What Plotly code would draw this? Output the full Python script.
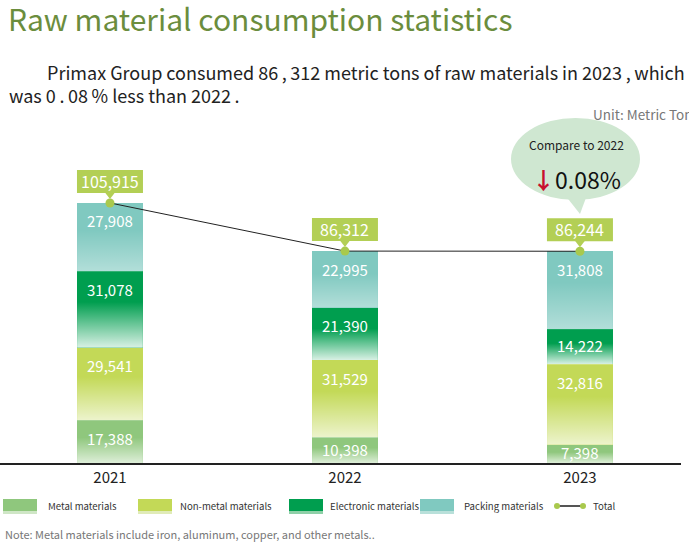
import plotly.graph_objects as go

# ---------------- data ----------------
years = ["2021", "2022", "2023"]
metal = [17388, 10398, 7398]
non_metal = [29541, 31529, 32816]
electronic = [31078, 21390, 14222]
packing = [27908, 22995, 31808]
totals = [105915, 86312, 86244]
series_names = ["Metal materials", "Non-metal materials", "Electronic materials", "Packing materials"]

# ---------------- style ----------------
FONT = "Noto Sans CJK TC"
W, H = 689, 547
M_L, M_R, M_T, M_B = 0, 8, 120, 84
PLOT_H = H - M_T - M_B
Y_MAX = 139700
PX_PER_UNIT = PLOT_H / Y_MAX
BAR_W = 0.28
BOX_GREEN = "#b3cf55"
top_cols = ["#8fc77d", "#c3d957", "#009e4f", "#80c9c0"]
fade_alpha = [0.7, 0.7, 0.85, 0.4]
series = [metal, non_metal, electronic, packing]
xpos = list(range(len(years)))
SP = "\u2009"

fig = go.Figure()

# stacked bars
for name, vals, col in zip(series_names, series, top_cols):
    fig.add_trace(go.Bar(x=xpos, y=vals, name=name, marker=dict(color=col, line=dict(width=0)),
                         width=BAR_W, showlegend=False, hoverinfo="skip"))

# gradient fade overlays (computed from the data stacks)
base = [0] * len(years)
label_anns = []
for vals, a in zip(series, fade_alpha):
    for i, v in enumerate(vals):
        b, t = base[i], base[i] + v
        fig.add_trace(go.Scatter(
            x=[i - BAR_W / 2, i + BAR_W / 2, i + BAR_W / 2, i - BAR_W / 2, i - BAR_W / 2],
            y=[b, b, t, t, b], mode="lines", line=dict(width=0), fill="toself",
            fillgradient=dict(type="vertical", colorscale=[[0, f"rgba(255,255,255,{a})"],
                                                          [0.6, "rgba(255,255,255,0)"],
                                                          [1, "rgba(255,255,255,0)"]]),
            showlegend=False, hoverinfo="skip"))
        hpx = v * PX_PER_UNIT
        if hpx < 36:
            label_anns.append(dict(x=i, y=(b + t) / 2, yshift=1, text=f"{v:,}", showarrow=False,
                                   font=dict(family=FONT, size=15, color="white"), yanchor="middle"))
        else:
            label_anns.append(dict(x=i, y=t, yshift=-18, text=f"{v:,}", showarrow=False,
                                   font=dict(family=FONT, size=15, color="white"), yanchor="middle"))
        base[i] = t

# total line
fig.add_trace(go.Scatter(x=xpos, y=totals, mode="lines+markers", name="Total",
                         line=dict(color="#222222", width=1),
                         marker=dict(color="#a9c94d", size=9), showlegend=False, hoverinfo="skip"))

shapes = []
anns = list(label_anns)
for i, tot in enumerate(totals):
    # label box + pointer, sized in pixels, anchored at the data point
    shapes.append(dict(type="rect", xref="x", yref="y", xsizemode="pixel", ysizemode="pixel",
                       xanchor=i, yanchor=tot, x0=-33, x1=33, y0=10, y1=33,
                       fillcolor=BOX_GREEN, line=dict(width=0)))
    shapes.append(dict(type="path", xref="x", yref="y", xsizemode="pixel", ysizemode="pixel",
                       xanchor=i, yanchor=tot, path="M -5,10.5 L 5,10.5 L 0,4 Z",
                       fillcolor=BOX_GREEN, line=dict(width=0)))
    anns.append(dict(x=i, y=tot, yshift=22, text=f"{tot:,}", showarrow=False,
                     font=dict(family=FONT, size=16, color="white"), yanchor="middle"))

def px(xp):
    return (xp - M_L) / (W - M_L - M_R)

def py(yp):
    return (H - M_B - yp) / PLOT_H

# paragraph and unit
line1 = f"Primax Group consumed 86{SP},{SP}312 metric tons of raw materials in 2023{SP},{SP}which"
line2 = f"was 0{SP}.{SP}08{SP}% less than 2022{SP}."
anns += [
    dict(xref="paper", yref="paper", x=px(45), y=py(72), text=line1,
         showarrow=False, xanchor="left", yanchor="middle", font=dict(family=FONT, size=18, color="#222222")),
    dict(xref="paper", yref="paper", x=px(7), y=py(95), text=line2,
         showarrow=False, xanchor="left", yanchor="middle", font=dict(family=FONT, size=18, color="#222222")),
    dict(xref="paper", yref="paper", x=px(591), y=py(114), text="Unit: Metric Ton",
         showarrow=False, xanchor="left", yanchor="middle", font=dict(family=FONT, size=13.5, color="#777777")),
    dict(xref="paper", yref="paper", x=px(3), y=py(534), text="Note: Metal materials include iron, aluminum, copper, and other metals..",
         showarrow=False, xanchor="left", yanchor="middle", font=dict(family=FONT, size=11, color="#777777")),
    dict(xref="paper", yref="paper", x=px(576), y=py(144), text="Compare to 2022",
         showarrow=False, xanchor="center", yanchor="middle", font=dict(family=FONT, size=12, color="#222222")),
    dict(xref="paper", yref="paper", x=px(576), y=py(179), text="<span style='color:#c8102e'><b>↓</b></span>0.08%",
         showarrow=False, xanchor="center", yanchor="middle", font=dict(family=FONT, size=23, color="#111111")),
]

shapes += [
    dict(type="circle", xref="paper", yref="paper", x0=px(511), x1=px(640), y0=py(118), y1=py(200),
         fillcolor="#cfe7d1", line=dict(width=0), layer="below"),
    dict(type="path", xref="paper", yref="paper",
         path=f"M {px(565)},{py(195)} L {px(587)},{py(195)} L {px(580)},{py(214)} Z",
         fillcolor="#cfe7d1", line=dict(width=0), layer="below"),
]

# custom legend
legend_items = [(3, 46), (138, 178), (289, 328), (420, 462)]
light_cols = ["#cfe6c6", "#e0ebb8", "#8fd0a8", "#b9e0da"]
for (sx, tx), name, col, lc in zip(legend_items, series_names, top_cols, light_cols):
    shapes.append(dict(type="rect", xref="paper", yref="paper", x0=px(sx), x1=px(sx + 34),
                       y0=py(511), y1=py(499), fillcolor=col, line=dict(width=0)))
    shapes.append(dict(type="rect", xref="paper", yref="paper", x0=px(sx), x1=px(sx + 34),
                       y0=py(514), y1=py(511), fillcolor=lc, line=dict(width=0)))
    anns.append(dict(xref="paper", yref="paper", x=px(tx), y=py(506), text=name, showarrow=False,
                     xanchor="left", yanchor="middle", font=dict(family=FONT, size=9.6, color="#333333")))
shapes.append(dict(type="line", xref="paper", yref="paper", x0=px(557), x1=px(583), y0=py(506), y1=py(506),
                   line=dict(color="#555555", width=2)))
for cx in (557, 583):
    shapes.append(dict(type="circle", xref="paper", yref="paper", x0=px(cx - 3), x1=px(cx + 3),
                       y0=py(509), y1=py(503), fillcolor="#a9c94d", line=dict(width=0)))
anns.append(dict(xref="paper", yref="paper", x=px(591), y=py(506), text="Total", showarrow=False,
                 xanchor="left", yanchor="middle", font=dict(family=FONT, size=9.6, color="#333333")))

fig.update_layout(
    width=W, height=H, margin=dict(l=M_L, r=M_R, t=M_T, b=M_B),
    paper_bgcolor="white", plot_bgcolor="white",
    barmode="stack", showlegend=False,
    title=dict(text="Raw material consumption statistics", x=8 / W, xanchor="left", xref="container",
               y=1 - 20 / H, yanchor="middle", yref="container",
               font=dict(family=FONT, size=30, color="#6b8d3d")),
    xaxis=dict(range=[-0.468, 2.43], tickvals=xpos, ticktext=years, showgrid=False, zeroline=False,
               showline=True, linecolor="#222222", linewidth=1.5, ticks="",
               tickfont=dict(family=FONT, size=15, color="#222222")),
    yaxis=dict(range=[0, Y_MAX], visible=False),
    annotations=anns, shapes=shapes,
)

fig.write_html("out.html", config={"displayModeBar": False},
               post_script="document.body.style.margin='0';")
